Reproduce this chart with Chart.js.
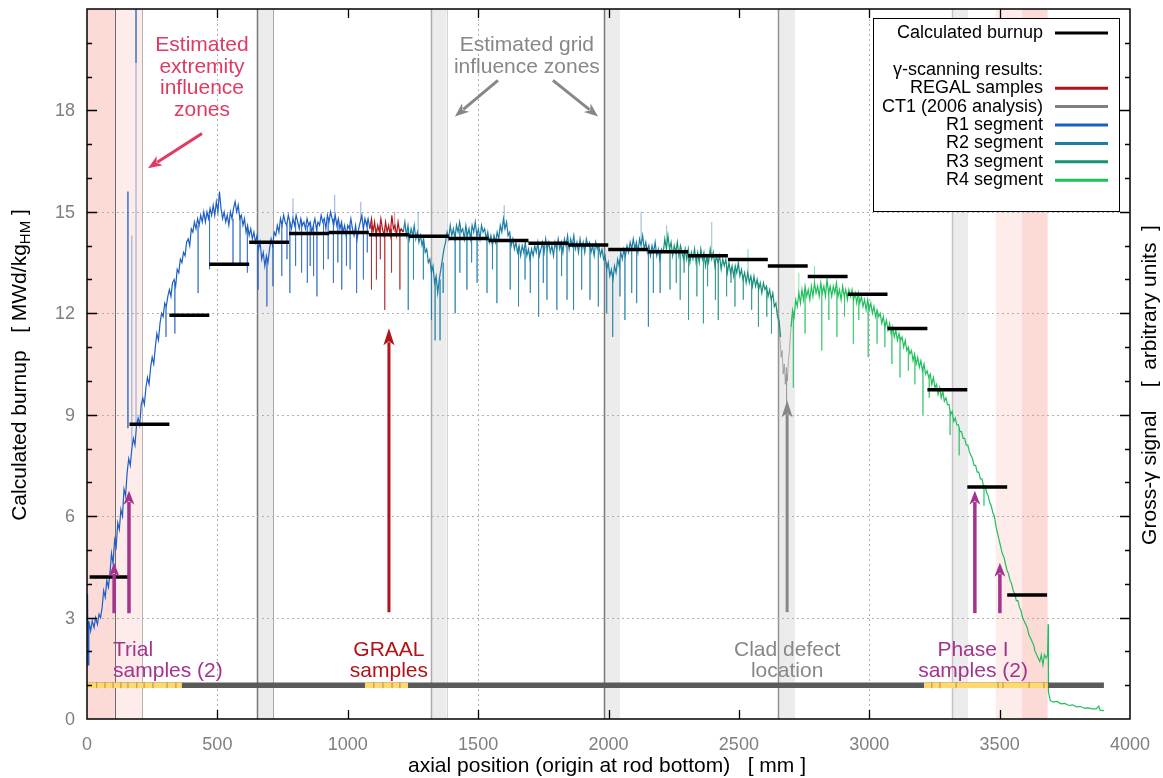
<!DOCTYPE html>
<html>
<head>
<meta charset="utf-8">
<script src="https://cdn.jsdelivr.net/npm/chart.js@4.4.1/dist/chart.umd.min.js"></script>
<style>
  body { margin: 0; background: #fff; }
  #wrap { width: 1163px; height: 778px; }
</style>
</head>
<body>
<div id="wrap"><canvas id="burnup_chart"></canvas></div>
<script>
// ---- data (axial position in mm, burnup / signal values) ----
var xTicks = [0, 500, 1000, 1500, 2000, 2500, 3000, 3500, 4000];
var yTicks = [0, 3, 6, 9, 12, 15, 18];

// calculated burnup, one value per axial calculation segment
var burnupEdges = [10, 163, 316, 469, 622, 775, 928, 1081, 1234, 1387, 1540, 1693, 1846, 1999, 2152, 2305, 2458, 2611, 2764, 2917, 3070, 3223, 3376, 3529, 3682];
var burnupValues = [4.2, 8.72, 11.94, 13.45, 14.1, 14.36, 14.39, 14.32, 14.28, 14.21, 14.15, 14.07, 14.02, 13.89, 13.82, 13.7, 13.59, 13.4, 13.09, 12.56, 11.55, 9.74, 6.86, 3.67];

// gamma scanning traces [mm, value]
var r1Trace = [[2,3.7],[4,1.6],[7,2.9],[14,2.6],[20,2.9],[27,2.7],[33,3.0],[40,2.8],[46,3.1],[52,3.0],[58,3.3],[64,3.8],[70,3.6],[76,4.1],[82,3.9],[88,4.3],[94,4.9],[100,4.6],[106,5.3],[112,5.1],[118,5.8],[124,5.6],[130,6.2],[136,6.0],[142,6.8],[148,6.6],[154,7.3],[160,7.7],[166,7.5],[172,8.0],[178,8.3],[184,8.1],[190,8.7],[196,8.9],[202,8.7],[208,9.3],[214,9.5],[220,9.3],[226,9.8],[232,10.1],[238,9.9],[244,10.4],[250,10.7],[256,10.5],[262,11.0],[268,11.4],[274,11.2],[280,11.7],[286,12.0],[292,11.9],[298,12.3],[304,12.2],[310,12.5],[316,12.7],[322,12.5],[328,12.9],[334,13.0],[340,12.8],[346,13.3],[352,13.2],[358,13.6],[364,13.5],[370,13.8],[376,13.7],[382,14.1],[388,14.2],[394,14.0],[400,14.5],[406,14.4],[412,14.7],[418,14.5],[424,14.8],[430,14.6],[436,14.9],[442,14.7],[448,15.0],[454,14.7],[460,15.0],[466,14.8],[472,15.1],[478,14.9],[484,15.2],[490,14.9],[496,15.3],[502,15.0],[508,15.6],[514,15.1],[520,14.8],[526,15.0],[532,14.7],[538,14.9],[544,14.6],[550,15.0],[556,14.8],[562,15.1],[568,15.3],[574,15.0],[580,15.2],[586,14.8],[592,14.9],[598,14.6],[604,14.8],[610,14.4],[616,14.6],[622,14.3],[628,14.5],[634,14.2],[640,14.4],[646,14.1],[652,14.3],[658,13.9],[664,14.1],[670,13.6],[676,13.8],[682,13.4],[688,13.7],[694,13.5],[700,13.9],[706,14.2],[712,14.0],[718,14.4],[724,14.3],[730,14.6],[736,14.4],[742,14.8],[748,14.6],[754,14.9],[760,14.7],[766,14.6],[772,14.9],[778,14.7],[784,14.5],[790,14.8],[796,14.6],[802,14.9],[808,14.7],[814,14.5],[820,14.8],[826,14.6],[832,14.7],[838,14.5],[844,14.8],[850,14.6],[856,14.7],[862,14.4],[868,14.6],[874,14.8],[880,14.5],[886,14.7],[892,14.6],[898,14.9],[904,14.7],[910,14.8],[916,14.5],[922,14.9],[928,14.7],[934,15.0],[940,14.8],[946,14.6],[952,14.9],[958,14.6],[964,14.8],[970,14.5],[976,14.7],[982,14.4],[988,14.6],[994,14.3],[1000,14.6],[1006,14.5],[1012,14.8],[1018,14.5],[1024,14.3],[1030,14.6],[1036,14.2],[1042,14.5],[1048,14.7],[1054,14.9],[1060,14.5],[1066,14.8],[1072,14.6],[1078,14.8],[1085,14.5]];
var regalTrace = [[1085,14.5],[1091,14.8],[1097,14.4],[1103,14.7],[1109,14.3],[1115,14.6],[1121,14.4],[1127,14.8],[1133,14.5],[1139,14.3],[1145,14.7],[1151,14.4],[1157,14.6],[1163,14.3],[1169,14.9],[1175,14.5],[1181,14.6],[1187,14.3],[1193,14.7],[1199,14.4],[1205,14.5],[1213,14.4]];
var r2Trace = [[1213,14.4],[1219,14.7],[1225,14.3],[1231,14.6],[1237,14.2],[1243,14.5],[1249,14.3],[1255,14.6],[1261,14.2],[1267,14.4],[1273,14.1],[1279,14.3],[1285,14.0],[1291,14.2],[1297,13.8],[1303,13.9],[1309,13.5],[1315,13.6],[1321,13.2],[1327,13.4],[1333,12.9],[1339,13.1],[1345,12.6],[1351,13.0],[1357,13.3],[1363,13.6],[1369,13.9],[1375,14.1],[1381,14.4],[1387,14.2],[1393,14.6],[1399,14.3],[1405,14.5],[1411,14.2],[1417,14.6],[1423,14.4],[1429,14.7],[1435,14.4],[1441,14.5],[1447,14.2],[1453,14.6],[1459,14.3],[1465,14.5],[1471,14.2],[1477,14.6],[1483,14.4],[1489,14.7],[1495,14.3],[1501,14.5],[1507,14.2],[1513,14.6],[1519,14.4],[1525,14.5],[1531,14.2],[1537,14.4],[1543,14.1],[1549,14.3],[1555,14.0],[1561,14.3],[1567,14.1],[1573,14.4],[1579,14.2],[1585,14.6],[1591,14.4],[1597,14.8],[1603,14.5],[1609,14.7],[1615,14.3],[1621,14.4],[1627,14.0],[1633,14.2],[1639,13.9],[1645,14.1],[1651,13.8],[1657,14.0],[1663,13.7],[1669,14.0],[1675,13.8],[1681,14.1],[1687,13.7],[1693,13.9],[1699,13.6],[1705,13.9],[1711,13.7],[1717,14.0],[1723,13.8],[1729,14.1],[1735,13.7],[1741,13.9],[1747,14.1],[1753,13.8],[1759,14.2],[1765,13.9],[1771,14.1],[1777,13.8],[1783,14.0],[1789,13.7],[1795,14.1],[1801,13.9],[1807,14.2],[1813,13.9],[1819,14.1],[1825,13.8],[1831,14.2],[1837,14.0],[1843,14.3],[1849,13.9],[1855,14.2],[1861,14.0],[1867,14.3],[1873,13.9],[1879,14.1],[1885,13.8],[1891,14.2],[1897,13.9],[1903,14.1],[1909,13.8],[1915,14.2],[1921,14.0],[1927,14.1],[1933,13.8],[1939,14.0],[1945,13.7],[1951,14.1],[1957,13.9],[1963,14.0],[1969,13.7],[1975,13.9],[1981,13.6],[1987,13.7],[1993,13.3],[1999,13.5],[2005,13.1],[2011,13.3],[2017,13.0],[2023,13.4],[2029,13.2],[2035,13.6],[2041,13.4],[2047,13.8],[2053,13.6],[2059,13.9],[2065,13.7],[2071,14.0],[2077,13.8],[2083,14.1],[2089,13.9],[2095,14.2],[2101,13.9],[2107,14.1],[2113,13.8],[2119,14.2],[2125,14.0],[2131,14.3],[2137,13.9],[2143,14.1],[2149,13.8],[2155,14.0],[2161,13.7],[2167,14.0],[2173,13.8],[2179,14.1],[2185,13.7],[2191,13.9],[2197,13.6],[2203,13.9],[2210,13.8]];
var r3Trace = [[2210,13.8],[2216,14.2],[2222,13.9],[2228,14.3],[2234,13.9],[2240,14.1],[2246,13.7],[2252,14.0],[2258,13.8],[2264,14.1],[2270,13.7],[2276,14.0],[2282,13.8],[2288,13.6],[2294,13.9],[2300,13.6],[2306,13.9],[2312,13.5],[2318,13.8],[2324,13.6],[2330,13.9],[2336,13.5],[2342,13.8],[2348,13.5],[2354,13.9],[2360,13.6],[2366,13.8],[2372,13.4],[2378,13.7],[2384,13.5],[2390,13.9],[2396,13.6],[2402,13.8],[2408,13.4],[2414,13.7],[2420,13.5],[2426,13.7],[2432,13.3],[2438,13.6],[2444,13.4],[2450,13.6],[2456,13.2],[2462,13.5],[2468,13.2],[2474,13.4],[2480,13.1],[2486,13.4],[2492,13.2],[2498,13.5],[2504,13.1],[2510,13.3],[2516,13.0],[2522,13.2],[2528,12.9],[2534,13.2],[2540,12.9],[2546,13.1],[2552,12.8],[2558,13.1],[2564,12.8],[2570,13.0],[2576,12.7],[2582,12.9],[2588,12.6],[2594,12.9],[2600,12.7],[2606,12.8],[2612,12.5],[2618,12.7],[2624,12.4],[2630,12.6],[2636,12.2],[2642,12.3],[2648,11.9],[2654,11.8],[2660,11.3]];
var ct1Trace = [[2648,12.1],[2653,11.6],[2658,11.2],[2662,10.7],[2666,10.9],[2670,10.2],[2674,10.5],[2678,9.9],[2682,10.4],[2686,10.0],[2690,10.6],[2694,10.9],[2698,11.4],[2702,11.7],[2706,12.0]];
var r4Trace = [[2700,11.6],[2706,12.1],[2712,11.9],[2718,12.4],[2724,12.2],[2730,12.6],[2736,12.3],[2742,12.7],[2748,12.4],[2754,12.8],[2760,12.5],[2766,12.7],[2772,12.4],[2778,12.8],[2784,12.5],[2790,12.9],[2796,12.6],[2802,12.8],[2808,12.5],[2814,12.9],[2820,12.6],[2826,12.8],[2832,12.5],[2838,13.0],[2844,12.6],[2850,12.8],[2856,12.5],[2862,12.8],[2868,12.6],[2874,12.9],[2880,12.5],[2886,12.7],[2892,12.4],[2898,12.8],[2904,12.5],[2910,12.7],[2916,12.4],[2922,12.7],[2928,12.5],[2934,12.7],[2940,12.4],[2946,12.6],[2952,12.3],[2958,12.6],[2964,12.3],[2970,12.5],[2976,12.2],[2982,12.4],[2988,12.1],[2994,12.4],[3000,12.1],[3006,12.3],[3012,12.0],[3018,12.2],[3024,11.9],[3030,12.1],[3036,11.9],[3042,12.0],[3048,11.7],[3054,11.9],[3060,11.6],[3066,11.8],[3072,11.5],[3078,11.7],[3084,11.4],[3090,11.6],[3096,11.3],[3102,11.5],[3108,11.2],[3114,11.4],[3120,11.2],[3126,11.3],[3132,11.0],[3138,11.2],[3144,10.9],[3150,11.0],[3156,10.8],[3162,10.9],[3168,10.6],[3174,10.8],[3180,10.5],[3186,10.7],[3192,10.4],[3198,10.6],[3204,10.3],[3210,10.5],[3216,10.2],[3222,10.3],[3228,10.1],[3234,10.2],[3240,9.9],[3246,10.1],[3252,9.8],[3258,9.9],[3264,9.6],[3270,9.8],[3276,9.5],[3282,9.7],[3288,9.4],[3294,9.5],[3300,9.3],[3306,9.3],[3312,9.0],[3318,9.1],[3324,8.8],[3330,8.9],[3336,8.7],[3342,8.7],[3348,8.5],[3354,8.5],[3360,8.3],[3366,8.3],[3372,8.1],[3378,8.1],[3384,7.9],[3390,7.8],[3396,7.7],[3402,7.5],[3408,7.5],[3414,7.3],[3420,7.3],[3426,7.1],[3432,7.1],[3438,6.9],[3444,6.9],[3450,6.7],[3456,6.6],[3462,6.4],[3468,6.3],[3474,6.1],[3480,6.0],[3486,5.7],[3492,5.5],[3498,5.3],[3504,5.1],[3510,4.9],[3516,4.8],[3522,4.6],[3528,4.4],[3534,4.3],[3540,4.1],[3546,4.0],[3552,3.8],[3558,3.7],[3564,3.5],[3570,3.5],[3576,3.3],[3582,3.2],[3588,3.0],[3594,2.9],[3600,2.8],[3606,2.7],[3612,2.5],[3618,2.4],[3624,2.3],[3630,2.2],[3636,2.0],[3642,1.9],[3648,1.8],[3654,1.7],[3660,1.9],[3666,1.6],[3672,1.9],[3678,1.8],[3684,1.9],[3686,2.8],[3687,0.8],[3694,0.55],[3705,0.5],[3720,0.52],[3735,0.45],[3750,0.46],[3765,0.4],[3780,0.42],[3795,0.36],[3810,0.37],[3825,0.32],[3840,0.33],[3855,0.3],[3870,0.3],[3880,0.38],[3885,0.26],[3900,0.25]];

// isolated scan outliers [mm, from, to]
var r1TallSpikes = [[157,8.6,15.6],[188,19.4,21.5]];
var r1Spikes = [[172,8.1,14.3],[188,8.7,19.4],[303,12.2,11.3],[337,12.9,11.4],[426,14.6,12.6],[470,14.9,13.3],[560,14.8,13.4],[587,14.9,13.4],[615,14.5,13.2],[656,14.0,12.7],[690,13.6,12.2],[713,14.0,12.8],[747,14.6,13.1],[767,14.6,13.6],[778,14.7,12.6],[790,14.7,15.4],[800,14.7,13.4],[823,14.7,13.2],[845,14.6,12.9],[856,14.7,13.4],[869,14.6,13.1],[882,14.6,12.5],[907,14.7,13.3],[925,14.8,13.6],[945,14.8,12.9],[950,14.8,15.5],[962,14.7,13.5],[977,14.6,12.7],[995,14.4,13.4],[1009,14.6,13.3],[1034,14.4,12.6],[1050,14.7,15.3],[1060,14.6,13.0],[1075,14.7,13.8]];
var regalSpikes = [[1091,14.6,12.7],[1110,14.5,13.0],[1125,14.6,13.6],[1142,14.5,12.1],[1168,14.5,13.2],[1180,14.4,15.0],[1200,14.5,12.7]];
var r2Spikes = [[1232,14.4,12.1],[1252,14.4,13.0],[1270,14.3,15.0],[1290,14.2,13.0],[1321,13.4,11.8],[1335,13.0,11.2],[1354,13.0,11.2],[1366,13.5,12.6],[1412,14.4,12.0],[1430,14.5,13.2],[1457,14.4,12.7],[1475,14.4,13.5],[1496,14.4,12.9],[1534,14.3,12.6],[1555,14.1,13.3],[1572,14.2,12.3],[1600,14.5,15.2],[1623,14.3,12.7],[1655,13.9,12.2],[1680,13.9,13.0],[1700,13.8,12.6],[1732,13.9,11.9],[1750,14.0,12.9],[1764,14.0,12.4],[1802,14.0,12.1],[1820,14.0,13.1],[1841,14.1,12.4],[1866,14.1,12.1],[1897,14.0,12.7],[1929,14.0,12.4],[1961,13.9,12.2],[1993,13.5,12.0],[2016,13.2,11.3],[2044,13.6,12.5],[2063,13.8,11.8],[2089,14.0,12.6],[2108,14.0,12.3],[2125,14.1,15.0],[2153,14.0,11.6],[2172,13.9,12.6],[2198,13.8,12.6]];
var r3Spikes = [[2223,14.0,14.6],[2236,13.9,12.7],[2260,13.9,12.9],[2275,13.8,12.4],[2290,13.8,13.2],[2307,13.7,11.8],[2339,13.7,12.5],[2364,13.7,11.7],[2380,13.6,12.8],[2396,13.7,14.7],[2410,13.6,12.4],[2421,13.6,11.8],[2453,13.4,12.5],[2470,13.3,12.9],[2485,13.3,12.2],[2517,13.1,12.4],[2535,13.1,13.9],[2549,13.0,12.1],[2575,12.9,11.6],[2607,12.7,11.9],[2625,12.5,11.4]];
var ct1Spikes = [[2683,10.2,8.8]];
var r4Spikes = [[2709,12.0,9.8],[2730,12.5,13.2],[2754,12.7,11.4],[2790,12.8,13.4],[2818,12.7,10.9],[2845,12.7,11.8],[2876,12.7,11.3],[2905,12.6,11.9],[2939,12.6,11.1],[2960,12.4,11.8],[2996,12.3,10.7],[3030,12.0,11.1],[3060,11.7,11.0],[3087,11.5,10.5],[3118,11.3,10.1],[3150,11.0,10.3],[3175,10.7,9.9],[3206,10.4,9.0],[3230,10.1,9.5],[3310,9.1,8.4],[3345,8.6,7.8],[3440,6.9,6.3]];

// rod sketch at y = 1: full rod, sampled zones, cut marks
var rodSpan = [0, 3900];
var sampledZones = [[0, 364], [1066, 1231], [3210, 3685]];
var cutMarks = [37, 69, 100, 130, 157, 191, 219, 253, 307, 341, 1100, 1135, 1170, 1200, 3240, 3271, 3333, 3494, 3513, 3613, 3670];

// influence zones [from mm, to mm]
var extremityInner = [[0, 107], [3586, 3684]];
var extremityOuter = [[107, 211], [3485, 3586]];
var gridZones = [[652, 713], [1321, 1379], [1983, 2044], [2650, 2715], [3317, 3379]];
var xGridLines = [500, 1500, 3000];
var yGridLines = [3, 6, 9, 12, 15];

var legendLabels = ['Calculated burnup', '', 'γ-scanning results:', 'REGAL samples', 'CT1 (2006 analysis)', 'R1 segment', 'R2 segment', 'R3 segment', 'R4 segment'];

// ---- styles ----
var FONT = '"Liberation Sans", Arial, Helvetica, sans-serif';
var C_R1 = '#1d5ec6', C_R2 = '#1c7ea3', C_R3 = '#17907a', C_R4 = '#1fbf5c';
var C_REGAL = '#b01418', C_CT1 = '#808080';
var C_PURPLE = '#a3338c', C_CRIMSON = '#e03a62', C_GRAY = '#878787';
var legendColors = ['#000', null, null, C_REGAL, C_CT1, C_R1, C_R2, C_R3, C_R4];

function pts(arr) {
  return arr.map(function(p){ return {x: p[0], y: p[1]}; });
}
function spikePts(arr) {
  var out = [];
  arr.forEach(function(s){
    out.push({x: s[0], y: s[1]}, {x: s[0], y: s[2]}, {x: s[0], y: null});
  });
  return out;
}
function stepPts(edges, vals) {
  var out = [];
  for (var i = 0; i < vals.length; i++) {
    out.push({x: edges[i], y: vals[i]}, {x: edges[i+1], y: vals[i]}, {x: edges[i+1], y: null});
  }
  return out;
}
function zonePts(zones, level) {
  var out = [];
  zones.forEach(function(z){ out.push({x: z[0], y: level}, {x: z[1], y: level}, {x: z[1], y: null}); });
  return out;
}
function markPts(xs) {
  var out = [];
  xs.forEach(function(x){ out.push({x: x, y: 0.91}, {x: x, y: 1.09}, {x: x, y: null}); });
  return out;
}
function line(data, color, width, order) {
  return { data: data, borderColor: color, borderWidth: width, pointRadius: 0, tension: 0, order: order, spanGaps: false };
}
function fade(hex, a) {
  var n = parseInt(hex.slice(1), 16);
  return 'rgba(' + (n >> 16) + ',' + ((n >> 8) & 255) + ',' + (n & 255) + ',' + a + ')';
}

var datasets = [
  line(stepPts(burnupEdges, burnupValues), '#000', 3.5, 0),
  line(markPts(cutMarks), '#b09050', 1, 1),
  line(zonePts(sampledZones, 1), '#ffd86e', 5.5, 2),
  line(pts([[rodSpan[0], 1], [rodSpan[1], 1]]), '#5a5a5a', 5.5, 3),
  line(pts(r1Trace), C_R1, 1.2, 4),
  line(spikePts(r1TallSpikes), C_R1, 1.3, 4),
  line(pts(regalTrace), C_REGAL, 1.2, 4),
  line(pts(r2Trace), C_R2, 1.2, 4),
  line(pts(r3Trace), C_R3, 1.2, 4),
  line(pts(r4Trace), C_R4, 1.2, 4),
  line(pts(ct1Trace), fade(C_CT1, 0.6), 1, 5),
  line(spikePts(r1Spikes), fade(C_R1, 0.5), 1, 6),
  line(spikePts(regalSpikes), fade(C_REGAL, 0.5), 1, 6),
  line(spikePts(r2Spikes), fade(C_R2, 0.55), 1, 6),
  line(spikePts(r3Spikes), fade(C_R3, 0.5), 1, 6),
  line(spikePts(ct1Spikes), fade(C_CT1, 0.4), 1, 6),
  line(spikePts(r4Spikes), fade(C_R4, 0.5), 1, 6)
];

// annotations in data coordinates
var notes = [
  {lines: ['Estimated', 'extremity', 'influence', 'zones'], x: 441, y: 19.92, align: 'center', color: C_CRIMSON},
  {lines: ['Estimated grid', 'influence zones'], x: 1687, y: 19.92, align: 'center', color: C_GRAY},
  {lines: ['Trial', 'samples (2)'], x: 100, y: 2.04, align: 'left', color: C_PURPLE},
  {lines: ['GRAAL', 'samples'], x: 1158, y: 2.04, align: 'center', color: C_REGAL},
  {lines: ['Clad defect', 'location'], x: 2685, y: 2.04, align: 'center', color: C_GRAY},
  {lines: ['Phase I', 'samples (2)'], x: 3398, y: 2.04, align: 'center', color: C_PURPLE}
];
var arrows = [
  {from: [441, 17.32], to: [234, 16.29], color: C_CRIMSON, w: 3, head: 14, hw: 11},
  {from: [1576, 18.89], to: [1411, 17.82], color: C_GRAY, w: 3, head: 14, hw: 11},
  {from: [1787, 18.89], to: [1960, 17.82], color: C_GRAY, w: 3, head: 14, hw: 11},
  {from: [104, 3.13], to: [104, 4.62], color: C_PURPLE, w: 3.5, head: 14, hw: 11},
  {from: [161, 3.13], to: [161, 6.75], color: C_PURPLE, w: 3.5, head: 14, hw: 11},
  {from: [1158, 3.16], to: [1158, 11.56], color: C_REGAL, w: 3, head: 17, hw: 11},
  {from: [2685, 3.16], to: [2685, 9.43], color: C_GRAY, w: 3, head: 17, hw: 11},
  {from: [3405, 3.13], to: [3405, 6.75], color: C_PURPLE, w: 3.5, head: 14, hw: 11},
  {from: [3501, 3.13], to: [3501, 4.62], color: C_PURPLE, w: 3.5, head: 14, hw: 11}
];

function drawArrow(ctx, x1, y1, x2, y2, color, w, headLen, headW) {
  var ang = Math.atan2(y2 - y1, x2 - x1);
  var bx = x2 - headLen * Math.cos(ang), by = y2 - headLen * Math.sin(ang);
  ctx.strokeStyle = color; ctx.fillStyle = color; ctx.lineWidth = w; ctx.lineCap = 'butt';
  ctx.beginPath(); ctx.moveTo(x1, y1); ctx.lineTo(x2 - (headLen - 3) * Math.cos(ang), y2 - (headLen - 3) * Math.sin(ang)); ctx.stroke();
  ctx.beginPath();
  ctx.moveTo(x2, y2);
  ctx.lineTo(bx + headW / 2 * Math.sin(ang), by - headW / 2 * Math.cos(ang));
  ctx.lineTo(x2 - (headLen - 4) * Math.cos(ang), y2 - (headLen - 4) * Math.sin(ang));
  ctx.lineTo(bx - headW / 2 * Math.sin(ang), by + headW / 2 * Math.cos(ang));
  ctx.closePath(); ctx.fill();
}

// background: influence zones and dotted grid
var backPlugin = {
  id: 'back',
  beforeDraw: function(chart) {
    var ctx = chart.ctx, a = chart.chartArea, sx = chart.scales.x, sy = chart.scales.y;
    var h = a.bottom - a.top;
    ctx.save();
    function band(z, color) {
      var x0 = sx.getPixelForValue(z[0]), x1 = sx.getPixelForValue(z[1]);
      ctx.fillStyle = color; ctx.fillRect(x0, a.top, x1 - x0, h);
    }
    function vline(v, color, w) {
      var x = Math.round(sx.getPixelForValue(v)) + 0.5;
      ctx.strokeStyle = color; ctx.lineWidth = w;
      ctx.beginPath(); ctx.moveTo(x, a.top); ctx.lineTo(x, a.bottom); ctx.stroke();
    }
    extremityInner.forEach(function(z){ band(z, '#fcdad6'); });
    extremityOuter.forEach(function(z){ band(z, '#fdecea'); });
    gridZones.forEach(function(z){ band(z, '#ececec'); });
    vline(extremityOuter[0][0], '#6a6a6a', 1);
    vline(extremityOuter[0][1], '#b4b4b4', 1);
    var leftEdge = ['#777', '#aaa', '#7a7a7a', '#939393', '#c4c4c4'];
    gridZones.forEach(function(z, i){ vline(z[0], leftEdge[i], 1.5); });
    vline(gridZones[0][1], '#a8a8a8', 1);
    vline(gridZones[1][1], '#d4d4d4', 1);

    ctx.strokeStyle = '#b0b0b0'; ctx.lineWidth = 1; ctx.setLineDash([2, 3]);
    xGridLines.forEach(function(v){
      var x = Math.round(sx.getPixelForValue(v)) + 0.5;
      ctx.beginPath(); ctx.moveTo(x, a.top); ctx.lineTo(x, a.bottom); ctx.stroke();
    });
    yGridLines.forEach(function(v){
      var y = Math.round(sy.getPixelForValue(v)) + 0.5;
      ctx.beginPath(); ctx.moveTo(a.left, y); ctx.lineTo(a.right, y); ctx.stroke();
    });
    ctx.restore();
  }
};

// foreground: arrows, notes, legend, frame, inward ticks, y labels, axis titles
var frontPlugin = {
  id: 'front',
  afterDraw: function(chart) {
    var ctx = chart.ctx, a = chart.chartArea, sx = chart.scales.x, sy = chart.scales.y;
    ctx.save();
    arrows.forEach(function(r){
      drawArrow(ctx, sx.getPixelForValue(r.from[0]), sy.getPixelForValue(r.from[1]),
        sx.getPixelForValue(r.to[0]), sy.getPixelForValue(r.to[1]), r.color, r.w, r.head, r.hw);
    });
    ctx.font = '21px ' + FONT; ctx.textBaseline = 'middle';
    notes.forEach(function(n){
      ctx.fillStyle = n.color; ctx.textAlign = n.align;
      var x = sx.getPixelForValue(n.x), y = sy.getPixelForValue(n.y);
      n.lines.forEach(function(t, i){ ctx.fillText(t, x, y + i * 21.5); });
    });

    // legend box
    var bx = a.right - 257, by = a.top + 9, bw = 246, bh = 193;
    ctx.fillStyle = '#fff'; ctx.fillRect(bx, by, bw, bh);
    ctx.strokeStyle = '#000'; ctx.lineWidth = 1; ctx.strokeRect(bx + 0.5, by + 0.5, bw, bh);
    ctx.font = '18px ' + FONT; ctx.textAlign = 'right'; ctx.fillStyle = '#000';
    legendLabels.forEach(function(t, i){
      var y = by + 15 + i * 18.4;
      if (t) ctx.fillText(t, bx + 170, y);
      if (legendColors[i]) {
        ctx.strokeStyle = legendColors[i]; ctx.lineWidth = 3;
        ctx.beginPath(); ctx.moveTo(bx + 182, y); ctx.lineTo(bx + 235, y); ctx.stroke();
      }
    });

    // frame and inward ticks
    ctx.strokeStyle = '#000'; ctx.lineWidth = 1.5;
    ctx.strokeRect(a.left, a.top, a.right - a.left, a.bottom - a.top);
    ctx.lineWidth = 1.3;
    for (var v = 1; v < 21; v++) {
      var y = Math.round(sy.getPixelForValue(v)) + 0.5, len = v % 3 === 0 ? 10 : 5;
      ctx.beginPath();
      ctx.moveTo(a.left, y); ctx.lineTo(a.left + len, y);
      ctx.moveTo(a.right, y); ctx.lineTo(a.right - len, y);
      ctx.stroke();
    }
    xTicks.forEach(function(t){
      if (t === 0 || t === 4000) return;
      var x = Math.round(sx.getPixelForValue(t)) + 0.5;
      ctx.beginPath();
      ctx.moveTo(x, a.bottom); ctx.lineTo(x, a.bottom - 9);
      ctx.moveTo(x, a.top); ctx.lineTo(x, a.top + 9);
      ctx.stroke();
    });

    // y tick labels
    ctx.fillStyle = '#7f7f7f'; ctx.font = '18px ' + FONT;
    ctx.textAlign = 'right'; ctx.textBaseline = 'middle';
    yTicks.forEach(function(t){ ctx.fillText(String(t), a.left - 12, sy.getPixelForValue(t) + 1); });

    // axis titles
    ctx.fillStyle = '#000'; ctx.textAlign = 'center'; ctx.textBaseline = 'middle';
    ctx.font = '21px ' + FONT;
    ctx.fillText('axial position (origin at rod bottom)   [ mm ]', 607, 766);

    ctx.save();
    ctx.translate(20, 365); ctx.rotate(-Math.PI / 2);
    var p1 = 'Calculated burnup   [ MWd/kg', p2 = 'HM', p3 = ' ]';
    ctx.font = '21px ' + FONT; var w1 = ctx.measureText(p1).width, w3 = ctx.measureText(p3).width;
    ctx.font = '15px ' + FONT; var w2 = ctx.measureText(p2).width;
    var x0 = -(w1 + w2 + w3) / 2;
    ctx.textAlign = 'left';
    ctx.font = '21px ' + FONT; ctx.fillText(p1, x0, 0);
    ctx.font = '15px ' + FONT; ctx.fillText(p2, x0 + w1, 6);
    ctx.font = '21px ' + FONT; ctx.fillText(p3, x0 + w1 + w2, 0);
    ctx.restore();

    ctx.save();
    ctx.translate(1150, 385); ctx.rotate(-Math.PI / 2);
    ctx.font = '21px ' + FONT; ctx.textAlign = 'center';
    ctx.fillText('Gross-γ signal    [  arbitrary units  ]', 0, 0);
    ctx.restore();
    ctx.restore();
  }
};

var ctx = document.getElementById('burnup_chart').getContext('2d');
var burnupChart = new Chart(ctx, {
  type: 'line',
  data: { datasets: datasets },
  options: {
    responsive: true,
    maintainAspectRatio: false,
    animation: false,
    events: [],
    layout: { autoPadding: false, padding: { left: 0, right: 33, top: 9, bottom: 0 } },
    plugins: { legend: { display: false }, tooltip: { enabled: false } },
    scales: {
      x: {
        type: 'linear', min: 0, max: 4000,
        grid: { display: false }, border: { display: false },
        ticks: {
          autoSkip: false, maxRotation: 0, padding: 9, color: '#7f7f7f',
          font: { family: FONT, size: 18, lineHeight: 1 },
          callback: function(v){ return String(v); }
        },
        afterBuildTicks: function(s){ s.ticks = xTicks.map(function(v){ return {value: v}; }); },
        afterFit: function(s){ s.height = 59; }
      },
      y: {
        type: 'linear', min: 0, max: 21,
        grid: { display: false }, border: { display: false },
        ticks: { display: false },
        afterFit: function(s){ s.width = 87; }
      }
    }
  },
  plugins: [backPlugin, frontPlugin]
});
</script>
</body>
</html>
